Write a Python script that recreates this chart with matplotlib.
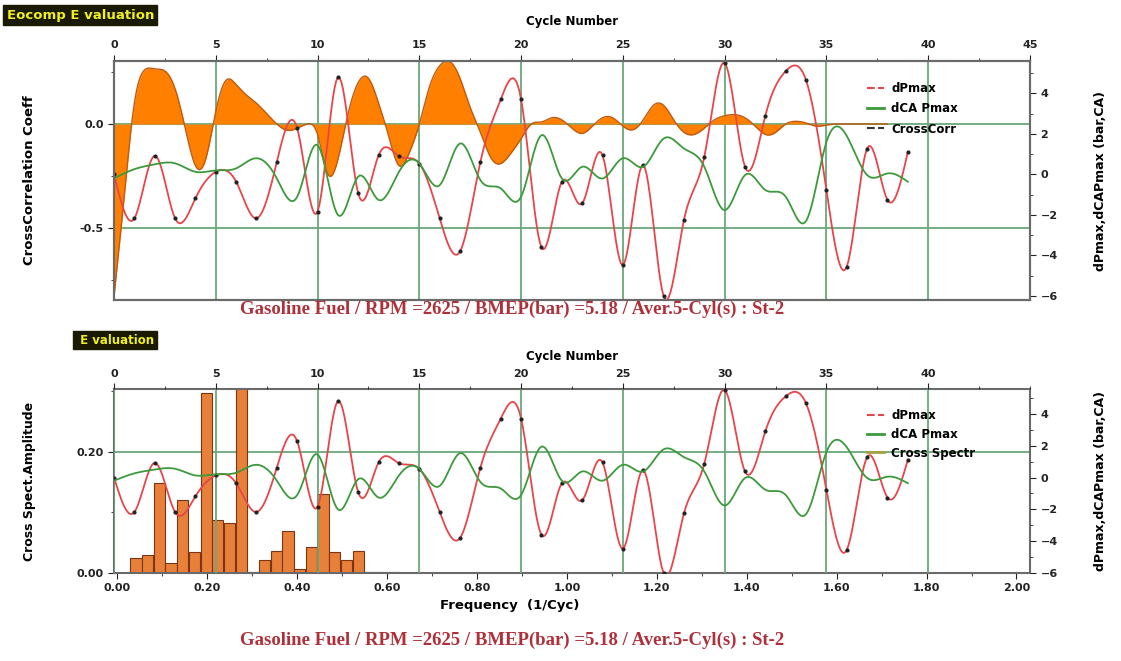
import numpy as np
import matplotlib
matplotlib.use('Agg')
import matplotlib.pyplot as plt
from matplotlib.lines import Line2D
from matplotlib.ticker import MultipleLocator

plt.rcParams['font.family'] = ['DejaVu Sans']
plt.rcParams['font.weight'] = 'bold'

# data ---------------------------------------------------------------------
cycles = np.arange(40)
dpmax = [0.0, -2.17, 0.92, -2.17, -1.18, 0.13, -0.36, -2.17, 0.62, 2.27,
         -1.84, 4.8, -0.94, 0.95, 0.9, 0.54, -2.17, -3.8, 0.62, 3.7,
         3.7, -3.6, -0.36, -1.43, 0.95, -4.47, 0.46, -6.0, -2.25, 0.87,
         5.5, 0.38, 2.9, 5.1, 4.65, -0.77, -4.55, 1.28, -1.26, 1.12]
dca_pmax = [-0.2, 0.26, 0.5, 0.55, 0.13, 0.2, 0.3, 0.8, -0.2, -1.1,
            1.45, -2.0, -0.1, -1.26, 0.13, 0.54, -0.53, 1.53, -0.28, -0.69,
            -1.1, 1.94, -0.2, 0.38, -0.2, 0.8, 0.38, 1.77, 1.28, 0.38,
            -1.76, -0.03, -0.77, -1.1, -2.3, 1.6, 1.9, -0.03, 0.05, -0.36]

# cross correlation, every half cycle
cc_lag = np.arange(0, 38.5, 0.5)
cc_val = [-0.83, -0.35, 0.10, 0.26, 0.265, 0.255, 0.17, -0.02, -0.20, -0.17,
          0.06, 0.21, 0.19, 0.14, 0.10, 0.05, 0.0, -0.03, -0.02, 0.0,
          -0.05, -0.24, -0.17, 0.05, 0.20, 0.22, 0.10, -0.06, -0.20, -0.14,
          0.0, 0.18, 0.28, 0.30, 0.22, 0.08, -0.04, -0.16, -0.19, -0.14,
          -0.07, 0.0, 0.01, 0.03, 0.02, -0.02, -0.045, -0.01, 0.03, 0.03,
          -0.01, -0.027, 0.02, 0.09, 0.09, 0.02, -0.04, -0.05, -0.02, 0.02,
          0.04, 0.045, 0.03, -0.01, -0.05, -0.04, 0.0, 0.013, 0.005, -0.01,
          -0.005, 0.0, 0.0, 0.0, 0.0, 0.0, 0.0]

# cross spectrum
freq = [0.042, 0.068, 0.094, 0.120, 0.146, 0.172, 0.198, 0.224, 0.250, 0.276,
        0.302, 0.328, 0.354, 0.380, 0.406, 0.432, 0.458, 0.484, 0.510, 0.536,
        0.562, 0.588, 0.614]
spect = [0.025, 0.03, 0.149, 0.016, 0.12, 0.035, 0.297, 0.088, 0.082, 0.45,
         0.001, 0.021, 0.036, 0.07, 0.006, 0.043, 0.13, 0.035, 0.021, 0.036,
         0.002, 0.002, 0.002]

subtitle = 'Gasoline Fuel / RPM =2625 / BMEP(bar) =5.18 / Aver.5-Cyl(s) : St-2'


def spline(x, y, n=12):
    # natural cubic spline, only for drawing the smooth curves
    x = np.asarray(x, float)
    y = np.asarray(y, float)
    h = np.diff(x)
    m = len(x)
    A = np.zeros((m, m))
    b = np.zeros(m)
    A[0, 0] = A[-1, -1] = 1
    for i in range(1, m - 1):
        A[i, i - 1] = h[i - 1]
        A[i, i] = 2 * (h[i - 1] + h[i])
        A[i, i + 1] = h[i]
        b[i] = 6 * ((y[i + 1] - y[i]) / h[i] - (y[i] - y[i - 1]) / h[i - 1])
    M = np.linalg.solve(A, b)
    xs = np.linspace(x[0], x[-1], (m - 1) * n + 1)
    k = np.clip(np.searchsorted(x, xs) - 1, 0, m - 2)
    t0 = x[k + 1] - xs
    t1 = xs - x[k]
    hk = h[k]
    ys = (M[k] * t0 ** 3 + M[k + 1] * t1 ** 3) / (6 * hk) \
        + (y[k] / hk - M[k] * hk / 6) * t0 + (y[k + 1] / hk - M[k + 1] * hk / 6) * t1
    return xs, ys


red = '#e8454a'
green = '#3c9a3c'
gridc = '#6aa87a'
spinec = '#6a6a6a'
subc = '#b0303a'
serif = ['Liberation Serif', 'DejaVu Serif']


def frame(ax):
    for s in ax.spines.values():
        s.set_color(spinec)
        s.set_linewidth(1.5)
    ax.tick_params(which='both', direction='out', colors='#222222', labelsize=8)
    ax.tick_params(which='major', length=4)
    ax.tick_params(which='minor', length=2.5)


fig = plt.figure(figsize=(11.21, 6.61), dpi=100)

# ---------------- top panel ----------------
ax1 = fig.add_axes([0.1017, 0.5461, 0.8171, 0.3616])
frame(ax1)
ax1.set_xlim(0, 45)
ax1.set_ylim(-0.846, 0.303)
ax1.xaxis.tick_top()
ax1.xaxis.set_label_position('top')
ax1.set_xticks(range(0, 46, 5))
ax1.xaxis.set_minor_locator(MultipleLocator(2.5))
ax1.tick_params(axis='x', pad=4)
ax1.set_yticks([-0.5, 0.0])
ax1.set_yticklabels(['-0.5', '0.0'])
ax1.yaxis.set_minor_locator(MultipleLocator(0.25))
ax1.grid(True, which='major', color=gridc, lw=1.3)
ax1.set_axisbelow(True)
ax1.set_xlabel('Cycle Number', fontsize=8.5, fontweight='bold', labelpad=11)
ax1.set_ylabel('CrossCorrelation Coeff', fontsize=9.5, fontweight='bold')
ax1.yaxis.set_label_coords(-0.085, 0.5)

xs, ys = spline(cc_lag, cc_val, 10)
ax1.fill_between(xs, 0, ys, color='#ff8000', lw=0)
ax1.plot(xs, ys, color='#c05a10', lw=1.0)

ax1r = ax1.twinx()
frame(ax1r)
ax1r.set_ylim(-6.2, 5.6)
ax1r.set_yticks(range(-6, 5, 2))
ax1r.yaxis.set_minor_locator(MultipleLocator(1))
ax1r.set_ylabel('dPmax,dCAPmax (bar,CA)', fontsize=9, fontweight='bold')
ax1r.yaxis.set_label_coords(1.07, 0.5)
xs, ys = spline(cycles, dpmax)
ax1r.plot(xs, ys, color=red, lw=1.3)
ax1r.plot(cycles, dpmax, 'o', color='#222222', ms=2)
xs, ys = spline(cycles, dca_pmax)
ax1r.plot(xs, ys, color=green, lw=1.3)

h1 = [Line2D([], [], color=red, ls='--', lw=1.5),
      Line2D([], [], color=green, lw=2),
      Line2D([], [], color='#333333', ls='--', lw=1.5)]
ax1r.legend(h1, ['dPmax', 'dCA Pmax', 'CrossCorr'], loc='upper left',
            bbox_to_anchor=(0.81, 0.955), frameon=False, fontsize=8.5,
            handlelength=1.5, labelspacing=0.6, handletextpad=0.6)

fig.text(0.457, 1 - 309 / 661, subtitle, ha='center', va='center', color=subc,
         fontsize=13.5, fontweight='bold', family=serif)
fig.text(0.006, 1 - 15 / 661, 'Eocomp E valuation', ha='left', va='center',
         color='#f0f020', fontsize=9.5, fontweight='bold',
         bbox=dict(boxstyle='square,pad=0.25', fc='#1a1a00', ec='#1a1a00'))

# ---------------- bottom panel ----------------
ax2 = fig.add_axes([0.1017, 0.1331, 0.8171, 0.2784])
frame(ax2)
ax2.set_xlim(-0.007, 2.03)
ax2.set_ylim(0, 0.304)
ax2.set_xticks(np.arange(0, 2.01, 0.2))
ax2.set_xticklabels(['%.2f' % v for v in np.arange(0, 2.01, 0.2)])
ax2.xaxis.set_minor_locator(MultipleLocator(0.1))
ax2.set_yticks([0.0, 0.2])
ax2.set_yticklabels(['0.00', '0.20'])
ax2.yaxis.set_minor_locator(MultipleLocator(0.1))
ax2.grid(True, axis='y', which='major', color=gridc, lw=1.3)
ax2.set_axisbelow(True)
ax2.set_ylabel('Cross Spect.Amplitude', fontsize=9, fontweight='bold')
ax2.yaxis.set_label_coords(-0.085, 0.5)
ax2.bar(freq, spect, width=0.025, color='#e8803a', edgecolor='#7a3512', lw=0.8)

ax3 = fig.add_axes([0.1017, 0.1331, 0.8171, 0.2784], frameon=False)
frame(ax3)
ax3.patch.set_alpha(0)
ax3.set_xlim(0, 45)
ax3.set_ylim(-5.94, 5.56)
ax3.xaxis.tick_top()
ax3.xaxis.set_label_position('top')
ax3.yaxis.tick_right()
ax3.yaxis.set_label_position('right')
ax3.set_xticks(range(0, 41, 5))
ax3.xaxis.set_minor_locator(MultipleLocator(2.5))
ax3.set_yticks(range(-6, 5, 2))
ax3.yaxis.set_minor_locator(MultipleLocator(1))
ax3.grid(True, axis='x', which='major', color=gridc, lw=1.3)
ax3.set_xlabel('Cycle Number', fontsize=8.5, fontweight='bold', labelpad=6)
ax3.set_ylabel('dPmax,dCAPmax (bar,CA)', fontsize=9, fontweight='bold')
ax3.yaxis.set_label_coords(1.07, 0.5)
xs, ys = spline(cycles, dpmax)
ax3.plot(xs, ys, color=red, lw=1.3)
ax3.plot(cycles, dpmax, 'o', color='#222222', ms=2)
xs, ys = spline(cycles, dca_pmax)
ax3.plot(xs, ys, color=green, lw=1.3)

h2 = [Line2D([], [], color=red, ls='--', lw=1.5),
      Line2D([], [], color=green, lw=2),
      Line2D([], [], color='#a8a040', lw=2)]
ax3.legend(h2, ['dPmax', 'dCA Pmax', 'Cross Spectr'], loc='upper left',
           bbox_to_anchor=(0.81, 0.95), frameon=False, fontsize=8.5,
           handlelength=1.5, labelspacing=0.5, handletextpad=0.6)

fig.text(0.455, 1 - 605 / 661, 'Frequency  (1/Cyc)', ha='center', va='center',
         fontsize=9.5, fontweight='bold')
fig.text(0.457, 1 - 640 / 661, subtitle, ha='center', va='center', color=subc,
         fontsize=13.5, fontweight='bold', family=serif)
fig.text(0.068, 1 - 340 / 661, ' E valuation', ha='left', va='center',
         color='#f0f020', fontsize=8.5, fontweight='bold',
         bbox=dict(boxstyle='square,pad=0.25', fc='#1a1a00', ec='#1a1a00'))

fig.savefig('out.png', dpi=100)
